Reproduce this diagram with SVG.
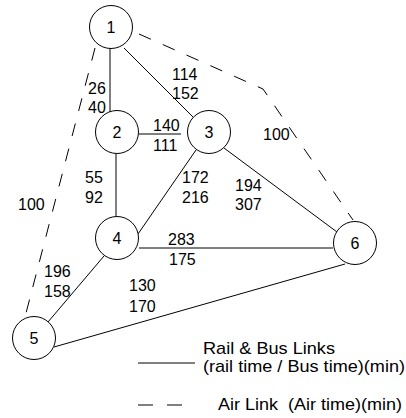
<svg xmlns="http://www.w3.org/2000/svg" width="406" height="418" viewBox="0 0 406 418">
<style>
.n circle{fill:#fff;stroke:#000;stroke-width:1}
.e line,.e path{stroke:#000;stroke-width:1;fill:none}
.d{stroke-dasharray:13 13}
text{font-family:"Liberation Sans",Arial,sans-serif;font-size:16px;fill:#000}
.c{text-anchor:middle}
.lg{font-size:17px;white-space:pre}
</style>
<rect width="406" height="418" fill="#fff"/>
<g id="connectors" class="e">
<line x1="110" y1="48" x2="110" y2="113"/>
<line x1="124" y1="48" x2="193" y2="117"/>
<line x1="139" y1="134" x2="181" y2="134"/>
<line x1="116" y1="154" x2="116" y2="216"/>
<line x1="196" y1="150" x2="138" y2="234"/>
<line x1="224" y1="148" x2="337" y2="232"/>
<line x1="139" y1="248" x2="333" y2="248"/>
<line x1="104" y1="256" x2="48" y2="322"/>
<line x1="54" y1="347" x2="345" y2="264"/>
<line class="d" x1="95" y1="48" x2="25" y2="317"/>
<path class="d" d="M139,34 L263,89 L353,220"/>
</g>
<g id="node1" class="n"><circle cx="111" cy="27" r="21.5"/><text class="c" x="111" y="32.5">1</text></g>
<g id="node2" class="n"><circle cx="117" cy="132" r="21.5"/><text class="c" x="117" y="137.5">2</text></g>
<g id="node3" class="n"><circle cx="209" cy="132" r="21.5"/><text class="c" x="209" y="137.5">3</text></g>
<g id="node4" class="n"><circle cx="117" cy="238" r="21.5"/><text class="c" x="117" y="243.5">4</text></g>
<g id="node5" class="n"><circle cx="34" cy="338" r="21.5"/><text class="c" x="34" y="343.5">5</text></g>
<g id="node6" class="n"><circle cx="355" cy="243" r="21.5"/><text class="c" x="355" y="248.5">6</text></g>
<g id="labels">
<text x="88" y="94">26</text><text x="88" y="113">40</text>
<text x="172" y="80">114</text><text x="172" y="99">152</text>
<text x="153" y="131">140</text><text x="153" y="151">111</text>
<text x="85" y="183">55</text><text x="85" y="203">92</text>
<text x="182" y="183">172</text><text x="182" y="203">216</text>
<text x="18" y="210">100</text>
<text x="263" y="140">100</text>
<text x="235" y="191">194</text><text x="235" y="210">307</text>
<text x="168" y="245">283</text><text x="169" y="265">175</text>
<text x="44" y="277">196</text><text x="44" y="297">158</text>
<text x="129" y="291">130</text><text x="129" y="312">170</text>
</g>
<g id="legend">
<line x1="138" y1="363" x2="195" y2="363" stroke="#000" stroke-width="1"/>
<line x1="138" y1="405" x2="153" y2="405" stroke="#000" stroke-width="1"/>
<line x1="167" y1="405" x2="182" y2="405" stroke="#000" stroke-width="1"/>
<text class="lg" x="203" y="354" textLength="132" lengthAdjust="spacingAndGlyphs">Rail &amp; Bus Links</text>
<text class="lg" x="203" y="372" textLength="202" lengthAdjust="spacingAndGlyphs">(rail time / Bus time)(min)</text>
<text class="lg" x="218" y="410" textLength="184" lengthAdjust="spacingAndGlyphs" xml:space="preserve">Air Link  (Air time)(min)</text>
</g>
</svg>
